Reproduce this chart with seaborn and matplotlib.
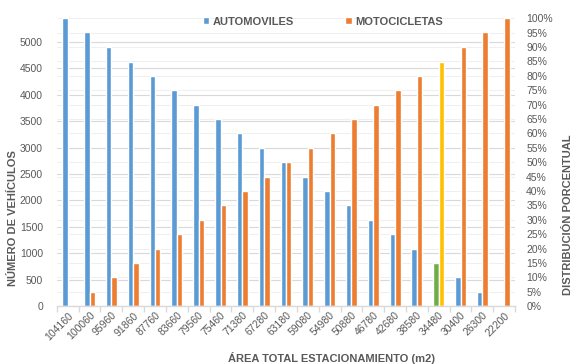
import matplotlib.pyplot as plt
import matplotlib.ticker as mticker
import pandas as pd
import seaborn as sns

# ==========================================
# DATA
# ==========================================
areas = ["104160", "100060", "95960", "91860", "87760", "83660", "79560",
         "75460", "71380", "67280", "63180", "59080", "54980", "50880",
         "46780", "42680", "38580", "34480", "30400", "26300", "22200"]
automoviles = [5450, 5180, 4905, 4630, 4360, 4085, 3815, 3540, 3270, 2995,
               2725, 2450, 2180, 1905, 1635, 1360, 1090, 815, 545, 270, 0]
motocicletas = [0, 270, 545, 815, 1090, 1360, 1635, 1905, 2180, 2450,
                2725, 2995, 3270, 3540, 3815, 4085, 4360, 4630, 4905, 5180, 5450]
highlight = "34480"

BLUE = "#5B9BD5"
ORANGE = "#ED7D31"
GREEN = "#70AD47"
GOLD = "#FFC000"
TEXT = "#595959"
GRID = "#D9D9D9"

df = pd.DataFrame({
    "area": areas * 2,
    "valor": automoviles + motocicletas,
    "tipo": ["AUTOMOVILES"] * len(areas) + ["MOTOCICLETAS"] * len(areas),
})

sns.set_theme(style="white")
plt.rcParams["font.family"] = ["Liberation Sans", "DejaVu Sans"]

fig = plt.figure(figsize=(5.86, 3.64), dpi=100)
ax = fig.add_axes([0.097, 0.159, 0.782, 0.791])

sns.barplot(data=df, x="area", y="valor", hue="tipo", order=areas,
            palette=[BLUE, ORANGE], width=0.5, saturation=1, ax=ax)

# recolour the highlighted category
hi = areas.index(highlight)
n = len(areas)
ax.patches[hi].set_facecolor(GREEN)
ax.patches[n + hi].set_facecolor(GOLD)

ax.set_ylim(0, 5450)
ax.set_xlim(-0.5, n - 0.5)
ax.set_yticks(list(range(0, 5001, 500)))

# right percentage axis
ax2 = ax.twinx()
ax2.set_ylim(0, 1)
ax2.yaxis.set_major_locator(mticker.MultipleLocator(0.05))
ax2.yaxis.set_major_formatter(mticker.PercentFormatter(1.0, decimals=0))
ax2.grid(True, color="#EDEDED", lw=0.6)
ax2.set_axisbelow(True)
ax.set_zorder(ax2.get_zorder() + 1)
ax.patch.set_visible(False)
ax.grid(True, axis="y", color=GRID, lw=0.8)
ax.set_axisbelow(True)

for a in (ax, ax2):
    for side in ("top", "left", "right", "bottom"):
        a.spines[side].set_visible(False)
ax.tick_params(axis="y", length=0, labelsize=7.5, labelcolor=TEXT, pad=10)
ax2.tick_params(axis="y", length=0, labelsize=7.5, labelcolor=TEXT, pad=8)

ax.spines["bottom"].set_visible(True)
ax.spines["bottom"].set_color(GRID)
ax.spines["bottom"].set_linewidth(1)

# x ticks: labels at centres, marks at category boundaries
ax.set_xticks(range(n))
ax.set_xticklabels(areas, rotation=45, ha="right", rotation_mode="anchor")
ax.tick_params(axis="x", length=0, labelsize=7.5, labelcolor=TEXT, pad=3)
ax.set_xticks([i - 0.5 for i in range(n + 1)], minor=True)
ax.tick_params(axis="x", which="minor", length=4, color=GRID, width=1, bottom=True)

lab = dict(fontsize=8, fontweight="bold", color=TEXT)
ax.set_xlabel("ÁREA TOTAL ESTACIONAMIENTO (m2)", **lab)
ax.set_ylabel("NÚMERO DE VEHÍCULOS", **lab)
ax2.set_ylabel("DISTRIBUCIÓN PORCENTUAL", **lab)
ax.xaxis.set_label_coords(0.60, -0.16)
ax.yaxis.set_label_coords(-0.085, 0.305)
ax2.yaxis.set_label_coords(1.105, 0.316)

ax.legend(loc="upper left", bbox_to_anchor=(0.306, 1.025), ncol=2,
          frameon=False, borderpad=0, handlelength=0.6, handleheight=0.6,
          handletextpad=0.3, columnspacing=4.6,
          prop={"size": 8, "weight": "bold"}, labelcolor=TEXT)

fig.savefig("out.png", dpi=100)
